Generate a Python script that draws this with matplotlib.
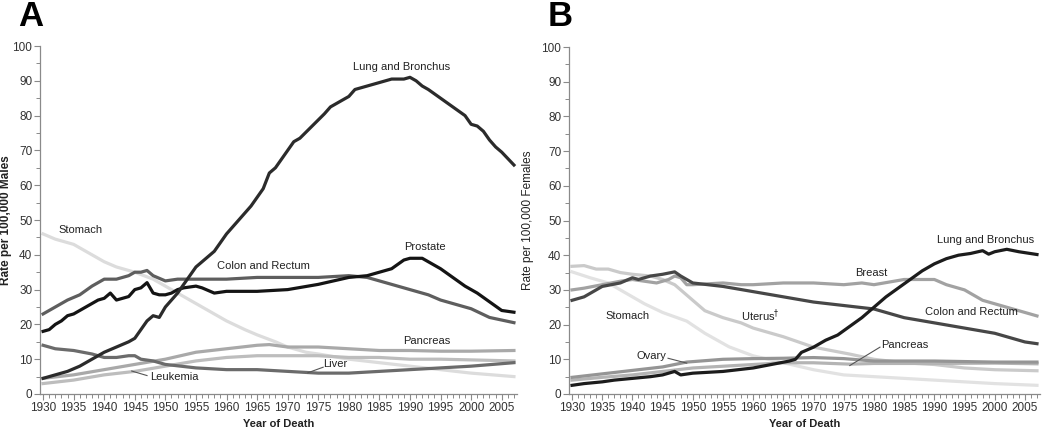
import matplotlib
matplotlib.use("Agg")
import matplotlib.pyplot as plt
from matplotlib.ticker import MultipleLocator

plt.rcParams['font.family'] = ['Liberation Sans', 'DejaVu Sans']

# ---------------- Panel A: Males ----------------
a_lung_years = [1930, 1932, 1934, 1936, 1938, 1940, 1942, 1944, 1945, 1946, 1947, 1948, 1949, 1950,
                1952, 1954, 1955, 1956, 1958, 1960, 1962, 1964, 1966, 1967, 1968, 1970, 1971, 1972,
                1974, 1976, 1977, 1978, 1980, 1981, 1983, 1985, 1987, 1989, 1990, 1991, 1992, 1993,
                1995, 1997, 1999, 2000, 2001, 2002, 2003, 2004, 2005, 2007]
a_lung_vals = [4.5, 5.5, 6.5, 8, 10, 12, 13.5, 15, 16, 18.5, 21, 22.5, 22, 25,
               29, 34, 36.5, 38, 41, 46, 50, 54, 59, 63.5, 65, 70, 72.5, 73.5,
               77, 80.5, 82.5, 83.5, 85.5, 87.5, 88.5, 89.5, 90.5, 90.5, 91, 90, 88.5, 87.5,
               85, 82.5, 80, 77.5, 77, 75.5, 73, 71, 69.5, 65.8]

a_prostate_years = [1930, 1931, 1932, 1933, 1934, 1935, 1936, 1937, 1938, 1939, 1940, 1941, 1942,
                    1943, 1944, 1945, 1946, 1947, 1948, 1949, 1950, 1951, 1952, 1953, 1955, 1956,
                    1958, 1960, 1965, 1970, 1975, 1980, 1983, 1985, 1987, 1989, 1990, 1992, 1993,
                    1995, 1997, 1999, 2001, 2003, 2005, 2007]
a_prostate_vals = [18, 18.5, 20, 21, 22.5, 23, 24, 25, 26, 27, 27.5, 29, 27,
                   27.5, 28, 30, 30.5, 32, 29, 28.5, 28.5, 29, 30, 30.5, 31, 30.5,
                   29, 29.5, 29.5, 30, 31.5, 33.5, 34, 35, 36, 38.5, 39, 39, 38,
                   36, 33.5, 31, 29, 26.5, 24, 23.5]

a_colon_years = [1930, 1932, 1934, 1936, 1938, 1940, 1942, 1944, 1945, 1946, 1947, 1948, 1950,
                 1952, 1955, 1960, 1965, 1970, 1975, 1980, 1983, 1985, 1988, 1990, 1993, 1995,
                 1998, 2000, 2003, 2007]
a_colon_vals = [23, 25, 27, 28.5, 31, 33, 33, 34, 35, 35, 35.5, 34, 32.5,
                33, 33, 33, 33.5, 33.5, 33.5, 34, 33.5, 32.5, 31, 30, 28.5, 27,
                25.5, 24.5, 22, 20.5]

a_stomach_years = [1930, 1932, 1935, 1938, 1940, 1942, 1945, 1948, 1950, 1952, 1955, 1958, 1960,
                   1963, 1965, 1968, 1970, 1973, 1975, 1980, 1985, 1990, 1995, 2000, 2007]
a_stomach_vals = [46, 44.5, 43, 40, 38, 36.5, 35, 33, 31, 29, 26, 23, 21,
                  18.5, 17, 15, 13.5, 12, 11.5, 10, 9, 8, 7, 6, 5]

a_pancreas_years = [1930, 1935, 1940, 1945, 1950, 1955, 1960, 1965, 1967, 1970, 1975, 1980,
                    1985, 1990, 1995, 2000, 2007]
a_pancreas_vals = [4.5, 5.5, 7, 8.5, 10, 12, 13, 14, 14.2, 13.5, 13.5, 13, 12.5, 12.5, 12.3,
                   12.3, 12.5]

a_leukemia_years = [1930, 1935, 1940, 1945, 1950, 1955, 1960, 1965, 1970, 1975, 1980, 1985,
                    1990, 1995, 2000, 2007]
a_leukemia_vals = [3, 4, 5.5, 6.5, 8, 9.5, 10.5, 11, 11, 11, 10.5, 10.5, 10, 10, 9.8, 9.5]

a_liver_years = [1930, 1932, 1935, 1938, 1940, 1942, 1944, 1945, 1946, 1948, 1950, 1955, 1960,
                 1965, 1970, 1975, 1980, 1985, 1990, 1995, 2000, 2007]
a_liver_vals = [14, 13, 12.5, 11.5, 10.5, 10.5, 11, 11, 10, 9.5, 8.5, 7.5, 7,
                7, 6.5, 6, 6, 6.5, 7, 7.5, 8, 9]

# ---------------- Panel B: Females ----------------
b_lung_years = [1930, 1932, 1935, 1937, 1940, 1943, 1945, 1947, 1948, 1950, 1955, 1960, 1963,
                1966, 1967, 1968, 1970, 1972, 1974, 1976, 1978, 1980, 1982, 1984, 1986, 1988,
                1990, 1992, 1994, 1996, 1998, 1999, 2000, 2002, 2004, 2007]
b_lung_vals = [2.5, 3, 3.5, 4, 4.5, 5, 5.5, 6.5, 5.5, 6, 6.5, 7.5, 8.5,
               9.5, 10, 12, 13.5, 15.5, 17, 19.5, 22, 25, 28, 30.5, 33, 35.5,
               37.5, 39, 40, 40.5, 41.3, 40.3, 41, 41.7, 41, 40.2]

b_breast_years = [1930, 1932, 1935, 1938, 1940, 1942, 1944, 1946, 1947, 1948, 1949, 1950, 1955,
                  1958, 1960, 1965, 1970, 1975, 1978, 1980, 1985, 1988, 1990, 1992, 1995, 1998,
                  2000, 2003, 2007]
b_breast_vals = [30, 30.5, 31.5, 32.5, 33, 32.5, 32, 33, 34, 33.5, 31.5, 31.5, 32,
                 31.5, 31.5, 32, 32, 31.5, 32, 31.5, 33, 33, 33, 31.5, 30, 27,
                 26, 24.5, 22.5]

b_colon_years = [1930, 1932, 1935, 1938, 1940, 1941, 1943, 1945, 1947, 1948, 1950, 1955, 1960,
                 1965, 1970, 1975, 1980, 1985, 1990, 1995, 2000, 2005, 2007]
b_colon_vals = [27, 28, 31, 32, 33.5, 33, 34, 34.5, 35.2, 34, 32, 31, 29.5,
                28, 26.5, 25.5, 24.5, 22, 20.5, 19, 17.5, 15, 14.5]

b_uterus_years = [1930, 1932, 1934, 1936, 1938, 1940, 1943, 1945, 1947, 1950, 1952, 1955, 1958,
                  1960, 1965, 1970, 1976, 1980, 1985, 1990, 1995, 2000, 2007]
b_uterus_vals = [36.8, 37, 36, 36, 35, 34.5, 34, 33, 31.5, 27, 24, 22, 20.5,
                 19, 16.5, 13.5, 11.5, 10, 9, 8.5, 7.5, 7, 6.7]

b_stomach_years = [1930, 1933, 1936, 1939, 1942, 1945, 1949, 1952, 1956, 1960, 1965, 1970,
                   1975, 1980, 1985, 1990, 1995, 2000, 2007]
b_stomach_vals = [35.2, 33.5, 32, 29, 26, 23.5, 21, 17.5, 13.6, 11, 9, 7,
                  5.5, 5, 4.5, 4, 3.5, 3, 2.5]

b_ovary_years = [1930, 1935, 1940, 1945, 1949, 1955, 1960, 1965, 1970, 1975, 1980, 1990,
                 2000, 2007]
b_ovary_vals = [4.8, 5.8, 6.8, 7.8, 9.2, 10, 10.2, 10.3, 10.5, 10.2, 9.5, 9.5, 9.2, 9.2]

b_pancreas_years = [1930, 1935, 1940, 1945, 1950, 1955, 1960, 1965, 1970, 1976, 1980, 1990,
                    2000, 2007]
b_pancreas_vals = [4, 4.8, 5.5, 6.5, 7.5, 8, 8.5, 9, 9, 8.6, 8.8, 8.8, 8.9, 8.7]

TICK_YEARS = list(range(1930, 2006, 5))

fig = plt.figure(figsize=(10.5, 4.28), dpi=100)
W, H = 1050, 428


def make_axes(left_px, right_px, top_px, bottom_px):
    return fig.add_axes([left_px / W, (H - bottom_px) / H,
                         (right_px - left_px) / W, (bottom_px - top_px) / H])


def style(ax, ylab, ylab_bold, ylab_x):
    ax.set_xlim(1929.5, 2007.5)
    ax.set_ylim(0, 100)
    for s in ['top', 'right']:
        ax.spines[s].set_visible(False)
    for s in ['left', 'bottom']:
        ax.spines[s].set_color('#8a8a8a')
        ax.spines[s].set_linewidth(0.9)
    ax.set_xticks(TICK_YEARS)
    ax.xaxis.set_minor_locator(MultipleLocator(1))
    ax.yaxis.set_major_locator(MultipleLocator(10))
    ax.yaxis.set_minor_locator(MultipleLocator(5))
    ax.tick_params(axis='both', which='major', length=4, width=0.8, color='#8a8a8a',
                   labelsize=8.5, labelcolor='#333333', pad=1.5)
    ax.tick_params(axis='both', which='minor', length=3, width=0.7, color='#8a8a8a')
    ax.set_xlabel('Year of Death', fontsize=8, fontweight='bold', color='#222222', labelpad=4)
    ax.set_ylabel(ylab, fontsize=8.5, fontweight='bold' if ylab_bold else 'normal',
                  color='#222222')
    ax.yaxis.set_label_coords(ylab_x, 0.5)


LW = 2.3
# ---------- Panel A ----------
axA = make_axes(40, 517, 46, 394)
style(axA, 'Rate per 100,000 Males', True, -0.058)
axA.plot(a_stomach_years, a_stomach_vals, color='#dcdcdc', lw=LW)
axA.plot(a_leukemia_years, a_leukemia_vals, color='#bdbdbd', lw=LW)
axA.plot(a_pancreas_years, a_pancreas_vals, color='#a9a9a9', lw=LW)
axA.plot(a_liver_years, a_liver_vals, color='#6b6b6b', lw=LW)
axA.plot(a_colon_years, a_colon_vals, color='#5e5e5e', lw=LW)
axA.plot(a_prostate_years, a_prostate_vals, color='#141414', lw=LW)
axA.plot(a_lung_years, a_lung_vals, color='#2b2b2b', lw=LW)

tkw = dict(fontsize=8, color='#222222', ha='center', va='center')
axA.text(1988.6, 94, 'Lung and Bronchus', **tkw)
axA.text(1936.1, 47.1, 'Stomach', **tkw)
axA.text(1966, 36.7, 'Colon and Rectum', **tkw)
axA.text(1992.4, 42.2, 'Prostate', **tkw)
axA.text(1992.8, 15.3, 'Pancreas', **tkw)
axA.text(1977.8, 8.6, 'Liver', **tkw)
axA.text(1951.4, 4.8, 'Leukemia', **tkw)
axA.plot([1975.8, 1973.3], [7.7, 6.1], color='#555555', lw=0.8)
axA.plot([1947.0, 1944.5], [5.3, 6.6], color='#555555', lw=0.8)

# ---------- Panel B ----------
axB = make_axes(569, 1040, 47, 394)
style(axB, 'Rate per 100,000 Females', False, -0.074)
axB.plot(b_stomach_years, b_stomach_vals, color='#e2e2e2', lw=LW)
axB.plot(b_uterus_years, b_uterus_vals, color='#cacaca', lw=LW)
axB.plot(b_pancreas_years, b_pancreas_vals, color='#b4b4b4', lw=LW)
axB.plot(b_ovary_years, b_ovary_vals, color='#959595', lw=LW)
axB.plot(b_breast_years, b_breast_vals, color='#a2a2a2', lw=LW)
axB.plot(b_colon_years, b_colon_vals, color='#474747', lw=LW)
axB.plot(b_lung_years, b_lung_vals, color='#1c1c1c', lw=LW)

axB.text(1998.5, 44.4, 'Lung and Bronchus', **tkw)
axB.text(1979.6, 34.8, 'Breast', **tkw)
axB.text(1996.2, 23.5, 'Colon and Rectum', **tkw)
axB.text(1939.2, 22.4, 'Stomach', **tkw)
axB.text(1961.2, 22.5, 'Uterus$^{\u2020}$', **tkw)
axB.text(1943.2, 11.0, 'Ovary', **tkw)
axB.text(1985.1, 14.2, 'Pancreas', **tkw)
axB.plot([1945.9, 1949.0], [10.3, 8.9], color='#555555', lw=0.8)
axB.plot([1981.0, 1976.0], [13.5, 8.2], color='#555555', lw=0.8)

fig.text(18 / W, 1 - 17 / H, 'A', fontsize=25, fontweight='bold', ha='left', va='center')
fig.text(548 / W, 1 - 17 / H, 'B', fontsize=25, fontweight='bold', ha='left', va='center')

fig.savefig('out.png', dpi=100, facecolor='white')
